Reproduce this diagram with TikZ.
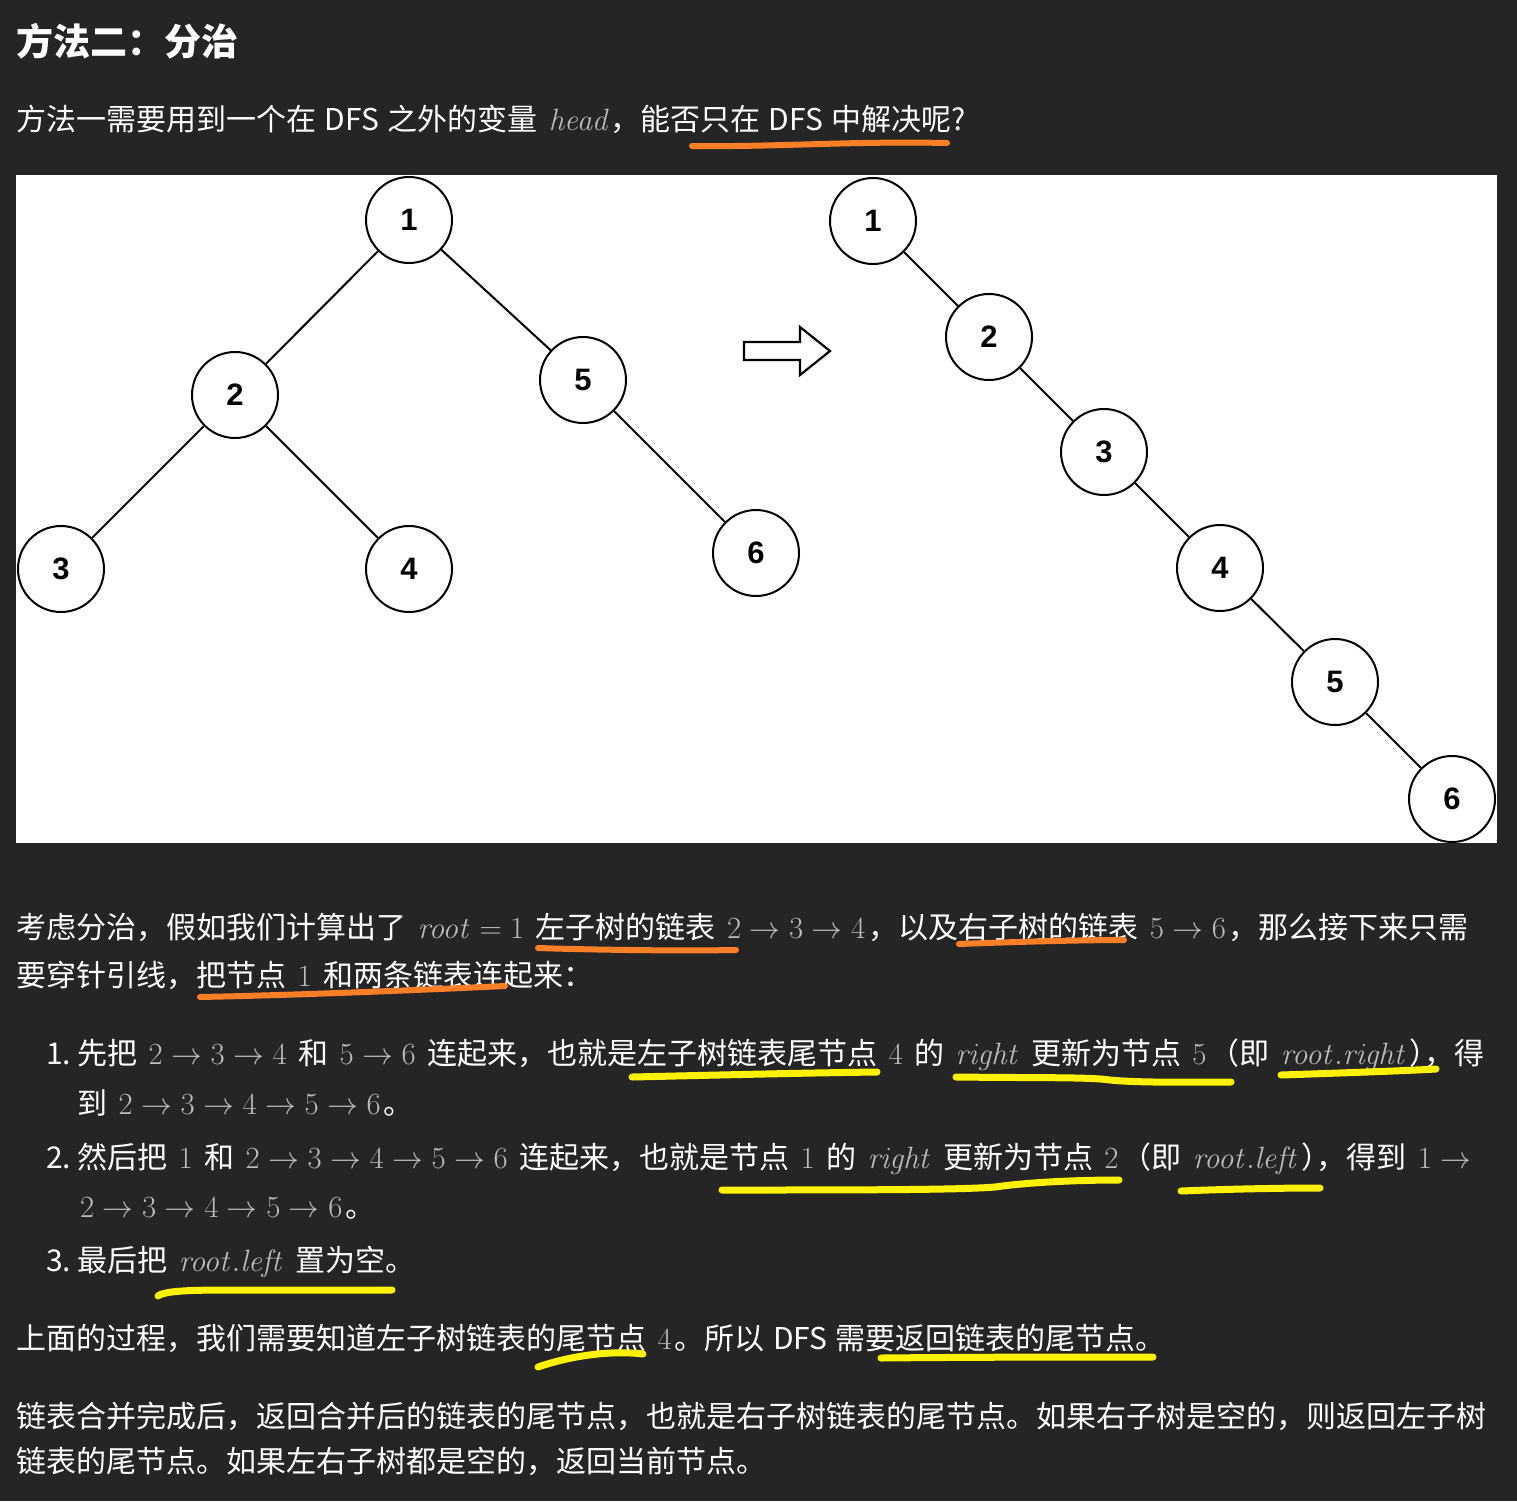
\RequirePackage{fix-cm}
\documentclass[tikz,border=0pt]{standalone}
\usepackage[no-math]{fontspec}
\setmainfont{Noto Sans CJK SC}[WordSpace=1.25]
\newfontfamily\nodefont{Liberation Sans}
\definecolor{bg}{HTML}{252525}
\definecolor{mg}{HTML}{BBBBBB}
\definecolor{hlo}{HTML}{FF7F27}
\definecolor{hly}{HTML}{FFF200}
\newcommand{\m}[1]{\hspace{3pt}{\fontsize{30.8}{36}\selectfont\textcolor{mg}{$#1$}}\hspace{3pt}}
\newcommand{\mn}[1]{\hspace{3pt}{\fontsize{30.8}{36}\selectfont\textcolor{mg}{$#1$}}}
\newcommand{\hw}[1]{{\addfontfeature{RawFeature=+halt}#1}}
\begin{document}
\begin{tikzpicture}[x=1pt,y=-1pt,
  txt/.style={anchor=base west,inner sep=0pt,text=white,font=\fontsize{30}{36}\selectfont},
  ttl/.style={anchor=base west,inner sep=0pt,text=white,font=\fontsize{37}{40}\selectfont\bfseries},
  tn/.style={circle,draw=black,line width=2pt,minimum size=86pt,inner sep=0pt,fill=white,font=\nodefont\bfseries\fontsize{31}{31}\selectfont},
  edge/.style={draw=black,line width=2pt},
  hlo/.style={draw=hlo,line width=6pt,line cap=round},
  hly/.style={draw=hly,line width=7pt,line cap=round}]
\useasboundingbox (0,0) rectangle (1517,1501);
\fill[bg] (0,0) rectangle (1517,1501);
\fill[white] (16,175) rectangle (1497,843);

% title and first line
\node[ttl] (title) at (16,56) {方法二：分治};
\node[txt] (l1) at (16,131) {方法一需要用到一个在 DFS 之外的变量 \mn{\mathit{head}}，能否只在 DFS 中解决呢?};

% left tree
\node[tn] (a1) at (409,220) {1};
\node[tn] (a2) at (235,395) {2};
\node[tn] (a5) at (583,380) {5};
\node[tn] (a3) at (61,569) {3};
\node[tn] (a4) at (409,569) {4};
\node[tn] (a6) at (756,553) {6};
\draw[edge] (a1) -- (a2);
\draw[edge] (a1) -- (a5);
\draw[edge] (a2) -- (a3);
\draw[edge] (a2) -- (a4);
\draw[edge] (a5) -- (a6);

% hollow arrow
\draw[black,line width=2.2pt,fill=white,line join=miter] (744,342) -- (800,342) -- (800,327) -- (830,351) -- (800,375) -- (800,360) -- (744,360) -- cycle;

% right chain
\node[tn] (b1) at (873,221) {1};
\node[tn] (b2) at (989,337) {2};
\node[tn] (b3) at (1104,452) {3};
\node[tn] (b4) at (1220,568) {4};
\node[tn] (b5) at (1335,682) {5};
\node[tn] (b6) at (1452,799) {6};
\draw[edge] (b1) -- (b2);
\draw[edge] (b2) -- (b3);
\draw[edge] (b3) -- (b4);
\draw[edge] (b4) -- (b5);
\draw[edge] (b5) -- (b6);

% paragraph 2
\node[txt] (p2a) at (16,938) {考虑分治，假如我们计算出了 \m{\mathit{root}=1} 左子树的链表 \m{2\to3\to4}，以及右子树的链表 \m{5\to6}，那么接下来只需};
\node[txt] (p2b) at (16,986) {要穿针引线，把节点 \m{1} 和两条链表连起来：};

% list
\node[txt] (n1) at (46,1064) {1.};
\node[txt] (i1a) at (77,1064) {先把 \m{2\to3\to4} 和 \m{5\to6} 连起来，也就是左子树链表尾节点 \m{4} 的 \m{\mathit{right}} 更新为节点 \m{5}（即 \m{\mathit{root.right}}\hw{）}，得};
\node[txt] (i1b) at (77,1114) {到 \m{2\to3\to4\to5\to6}。};
\node[txt] (n2) at (46,1168) {2.};
\node[txt] (i2a) at (77,1168) {然后把 \m{1} 和 \m{2\to3\to4\to5\to6} 连起来，也就是节点 \m{1} 的 \m{\mathit{right}} 更新为节点 \m{2}（即 \m{\mathit{root.left}}\hw{）}，得到 \m{1\to}};
\node[txt] (i2b) at (77,1217) {\m{2\to3\to4\to5\to6}。};
\node[txt] (n3) at (46,1271) {3.};
\node[txt] (i3) at (77,1271) {最后把 \m{\mathit{root.left}} 置为空。};

% paragraphs 3, 4
\node[txt] (p3) at (16,1349) {上面的过程，我们需要知道左子树链表的尾节点 \m{4}。所以 DFS 需要返回链表的尾节点。};
\node[txt] (p4a) at (16,1427) {链表合并完成后，返回合并后的链表的尾节点，也就是右子树链表的尾节点。如果右子树是空的，则返回左子树};
\node[txt] (p4b) at (16,1472) {链表的尾节点。如果左右子树都是空的，返回当前节点。};

% orange highlights
\draw[hlo] (692,146) .. controls (780,147) and (850,141) .. (947,143);
\draw[hlo] (538,948) .. controls (600,950) and (680,951) .. (736,950);
\draw[hlo] (959,944) .. controls (1010,942) and (1080,940) .. (1124,940);
\draw[hlo] (200,997) .. controls (300,995) and (420,990) .. (505,986);

% yellow highlights
\draw[hly] (632,1077) .. controls (720,1075) and (800,1073) .. (877,1072);
\draw[hly] (956,1077) .. controls (1040,1078) and (1090,1077) .. (1110,1080) .. controls (1140,1083) and (1190,1082) .. (1231,1082);
\draw[hly] (1281,1075) .. controls (1340,1073) and (1400,1071) .. (1436,1069);
\draw[hly] (722,1190) .. controls (850,1190) and (960,1190) .. (995,1187) .. controls (1030,1182) and (1080,1180) .. (1119,1180);
\draw[hly] (1181,1191) .. controls (1230,1189) and (1280,1188) .. (1320,1188);
\draw[hly] (158,1296) .. controls (165,1290) and (200,1290) .. (240,1290) -- (392,1290);
\draw[hly] (538,1367) .. controls (570,1356) and (610,1350) .. (643,1354);
\draw[hly] (881,1358) .. controls (980,1357) and (1080,1357) .. (1153,1357);
\end{tikzpicture}
\end{document}
